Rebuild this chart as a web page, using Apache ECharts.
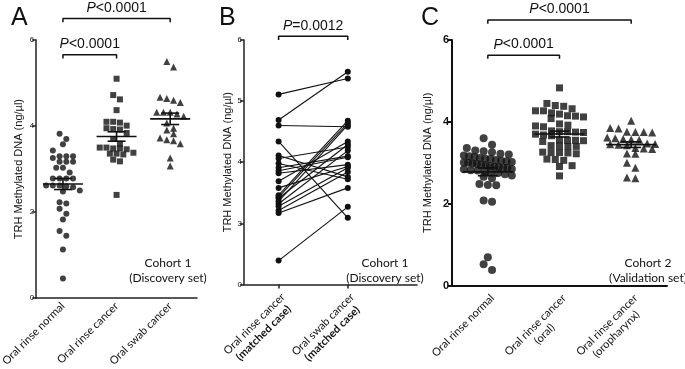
<!DOCTYPE html>
<html>
<head>
<meta charset="utf-8">
<script src="https://cdn.jsdelivr.net/npm/echarts@6/dist/echarts.min.js"></script>
<style>
  html, body { margin: 0; padding: 0; background: #fff; }
  #chart { width: 685px; height: 369px; }
</style>
</head>
<body>
<div id="chart"></div>
<script>
// ---- Panel A: cohort 1 (discovery set)
const aCategories = ['Oral rinse normal', 'Oral rinse cancer', 'Oral swab cancer'];
const aRinseNormal = [3.82, 3.70, 3.58, 3.43, 3.30, 3.30, 3.30, 3.26, 3.17, 3.17, 3.17, 3.03, 3.03, 2.92,
  2.78, 2.78, 2.78, 2.78, 2.62, 2.62, 2.60, 2.58, 2.62, 2.50, 2.48, 2.23, 2.20, 2.08, 1.96, 1.83,
  1.56, 1.45, 1.13, 0.46];
const aRinseCancer = [5.10, 4.72, 4.62, 4.37, 4.10, 4.08, 4.10, 4.01, 3.93, 3.95, 3.92, 3.84, 3.70,
  3.59, 3.50, 3.48, 3.48, 3.50, 3.46, 3.38, 3.36, 3.36, 3.34, 3.22, 3.18, 2.40];
const aSwabCancer = [5.50, 5.37, 4.64, 4.55, 4.60, 4.67, 4.32, 4.32, 4.28, 4.32, 4.23, 4.07, 3.91,
  3.95, 3.82, 3.68, 3.59, 3.66, 3.72, 3.26, 3.07];

// ---- Panel B: matched cases (pairs in the same order)
const bCategories = ['', 'Oral rinse cancer\n(matched case)', '', 'Oral swab cancer\n(matched case)', '', ''];
const bRinse = [5.11, 4.69, 4.60, 4.34, 1.17, 4.11, 4.06, 3.98, 3.91, 3.86, 3.82, 3.69, 3.58, 3.46,
  3.43, 3.41, 3.36, 3.32, 3.28, 3.21, 3.17];
const bSwab = [5.37, 5.48, 4.58, 3.09, 3.27, 3.76, 4.25, 3.72, 4.10, 4.08, 3.96, 4.34, 3.93, 4.68,
  4.64, 4.29, 4.61, 4.19, 3.91, 3.84, 3.58];
const bTickLabels = ['0', '3', '4', '5', '6'];

// ---- Panel C: cohort 2 (validation set)
const cCategories = ['Oral rinse normal', 'Oral rinse cancer\n(oral)', 'Oral rinse cancer\n(oropharynx)'];
const cRinseNormal = [3.60, 3.44, 3.36, 3.30, 3.28, 3.26, 3.22, 3.20, 3.18, 3.16, 3.14, 3.12, 3.10,
  3.09, 3.07, 3.05, 3.04, 3.02, 3.01, 3.00, 2.98, 2.97, 2.95, 2.94, 2.92, 2.91, 2.90, 2.88, 2.87,
  2.85, 2.84, 2.82, 2.81, 2.79, 2.77, 2.75, 2.72, 2.69, 2.66, 2.62, 2.48, 2.46, 2.45, 2.08, 2.05,
  0.69, 0.52, 0.38];
const cOralCancer = [4.83, 4.45, 4.40, 4.38, 4.32, 4.27, 4.27, 4.22, 4.19, 4.15, 4.14, 4.12, 4.08,
  3.95, 3.92, 3.90, 3.88, 3.78, 3.76, 3.76, 3.75, 3.74, 3.70, 3.68, 3.66, 3.56, 3.55, 3.55, 3.54,
  3.52, 3.42, 3.41, 3.40, 3.40, 3.26, 3.25, 3.25, 3.24, 3.22, 3.09, 3.08, 3.06, 2.93, 2.91, 2.68];
const cOropharynx = [4.03, 3.85, 3.84, 3.76, 3.75, 3.75, 3.74, 3.62, 3.60, 3.58, 3.57, 3.56, 3.47,
  3.46, 3.45, 3.44, 3.43, 3.36, 3.35, 3.34, 3.23, 3.22, 3.00, 2.88, 2.64, 2.62];

const chart = echarts.init(document.getElementById('chart'));
const INK = '#111';
const SANS = '"Liberation Sans", Arial, sans-serif';
const HUMAN = 'Lato, "Open Sans", sans-serif';

// spread points of similar value side by side (rows like a Prism dot plot)
function swarm(values, cat, unitPx, catPx, dot, maxHalf) {
  const sorted = values.slice().sort((a, b) => b - a);
  const rows = [];
  sorted.forEach(v => {
    const row = rows[rows.length - 1];
    if (row && (row[0] - v) * unitPx < dot) row.push(v);
    else rows.push([v]);
  });
  const out = [];
  rows.forEach(row => {
    const n = row.length;
    const step = n > 1 ? Math.min(dot * 1.2, 2 * maxHalf / (n - 1)) : 0;
    row.forEach((v, i) => out.push([cat + (i - (n - 1) / 2) * step / catPx, v]));
  });
  return out;
}

function stats(vals) {
  const n = vals.length;
  const mean = vals.reduce((s, v) => s + v, 0) / n;
  const sd = Math.sqrt(vals.reduce((s, v) => s + (v - mean) ** 2, 0) / (n - 1));
  return [mean, sd / Math.sqrt(n)];
}

function meanSem(groups, xIdx, yIdx, half, cap) {
  return {
    type: 'custom', xAxisIndex: xIdx, yAxisIndex: yIdx, z: 5, silent: true,
    data: groups.map((g, i) => [i].concat(stats(g))),
    renderItem: (params, api) => {
      const x = api.value(0), m = api.value(1), s = api.value(2);
      const c = api.coord([x, m]), hi = api.coord([x, m + s]), lo = api.coord([x, m - s]);
      const st = { stroke: INK, lineWidth: 1.6 };
      return {
        type: 'group', children: [
          { type: 'line', shape: { x1: c[0] - half, y1: c[1], x2: c[0] + half, y2: c[1] }, style: st },
          { type: 'line', shape: { x1: c[0], y1: hi[1], x2: c[0], y2: lo[1] }, style: st },
          { type: 'line', shape: { x1: c[0] - cap, y1: hi[1], x2: c[0] + cap, y2: hi[1] }, style: st },
          { type: 'line', shape: { x1: c[0] - cap, y1: lo[1], x2: c[0] + cap, y2: lo[1] }, style: st }
        ]
      };
    }
  };
}

function bracket(x0, x1, y, drop, xIdx, yIdx, text) {
  const xm = (x0 + x1) / 2;
  return {
    type: 'line', xAxisIndex: xIdx, yAxisIndex: yIdx, clip: false, silent: true,
    symbol: 'none', lineStyle: { color: INK, width: 1.5 }, z: 6,
    data: [[x0, y - drop], [x0, y], [xm, y],
      { value: [xm, y + drop * 0.4], symbol: 'circle', symbolSize: 0.1,
        label: { show: true, position: 'top', distance: 2, formatter: text,
          fontFamily: SANS, fontSize: 14, color: INK, rich: { i: { fontStyle: 'italic', fontFamily: SANS, fontSize: 14, color: INK } } } },
      [xm, y], [x1, y], [x1, y - drop]]
  };
}

const axisLineStyle = { color: '#222', width: 1.5 };
const thickLineStyle = { color: '#111', width: 2 };

function twoLine(boldSecond) {
  return v => {
    if (!v) return '';
    const parts = v.split('\n');
    if (parts.length === 1) return '{a|' + parts[0] + '}';
    return '{a|' + parts[0] + '}\n{' + (boldSecond ? 'b' : 'a') + '|' + parts[1] + '}';
  };
}
const richLabels = {
  a: { align: 'center', fontFamily: HUMAN, fontSize: 11, color: INK, lineHeight: 13 },
  b: { align: 'center', fontFamily: HUMAN, fontSize: 11, fontWeight: 'bold', color: INK, lineHeight: 13 }
};

const bDisp = v => (v < 3 ? v / 3 : v - 2);

const pairSeries = bRinse.map((v, i) => ({
  type: 'line', xAxisIndex: 3, yAxisIndex: 1, silent: true,
  symbol: 'circle', symbolSize: 6, showSymbol: true,
  itemStyle: { color: INK }, lineStyle: { color: INK, width: 1.1 },
  data: [[1, bDisp(v)], [3, bDisp(bSwab[i])]]
}));

const yName = 'TRH Methylated DNA (ng/µl)';
const yNameStyle = { fontFamily: SANS, fontSize: 11, color: INK };

const option = {
  animation: false,
  grid: [
    { left: 25, top: 40, width: 172, height: 261 },
    { left: 244, top: 40, width: 173, height: 260 },
    { left: 452, top: 40, width: 215, height: 260 }
  ],
  xAxis: [
    { type: 'category', gridIndex: 0, data: aCategories, boundaryGap: true,
      axisLine: { onZero: false, lineStyle: axisLineStyle }, axisTick: { alignWithLabel: true, length: 4, lineStyle: axisLineStyle },
      axisLabel: { rotate: 45, margin: 6, fontFamily: HUMAN, fontSize: 11, color: INK, interval: 0 } },
    { type: 'value', gridIndex: 0, min: -0.5, max: 2.5, show: false },
    { type: 'category', gridIndex: 1, data: bCategories, boundaryGap: false,
      axisLine: { onZero: false, lineStyle: axisLineStyle },
      axisTick: { length: 4, lineStyle: axisLineStyle, interval: (i, v) => v !== '' },
      axisLabel: { rotate: 45, margin: 6, interval: (i, v) => v !== '', verticalAlign: 'top',
        fontFamily: HUMAN, fontSize: 11, color: INK, formatter: twoLine(true), rich: richLabels } },
    { type: 'value', gridIndex: 1, min: 0, max: 5, show: false },
    { type: 'category', gridIndex: 2, data: cCategories, boundaryGap: true,
      axisLine: { onZero: false, lineStyle: thickLineStyle }, axisTick: { alignWithLabel: true, length: 4, lineStyle: thickLineStyle },
      axisLabel: { rotate: 45, margin: 6, interval: 0, verticalAlign: 'top',
        fontFamily: HUMAN, fontSize: 11, color: INK, formatter: twoLine(false), rich: richLabels } },
    { type: 'value', gridIndex: 2, min: -0.5, max: 2.5, show: false }
  ],
  yAxis: [
    { type: 'value', gridIndex: 0, min: 0, max: 6, interval: 2, splitLine: { show: false },
      name: yName, nameLocation: 'middle', nameGap: 12, nameTextStyle: yNameStyle,
      axisLine: { show: true, onZero: false, lineStyle: axisLineStyle }, axisTick: { show: true, length: 4, lineStyle: axisLineStyle },
      axisLabel: { fontFamily: SANS, fontSize: 8, color: INK, margin: 2 } },
    { type: 'value', gridIndex: 1, min: 0, max: 4, interval: 1, splitLine: { show: false },
      name: yName, nameLocation: 'middle', nameGap: 9, nameTextStyle: yNameStyle,
      axisLine: { show: true, onZero: false, lineStyle: axisLineStyle }, axisTick: { show: true, length: 4, lineStyle: axisLineStyle },
      axisLabel: { fontFamily: SANS, fontSize: 8, color: INK, margin: 2, formatter: v => bTickLabels[v] } },
    { type: 'value', gridIndex: 2, min: 0, max: 6, interval: 2, splitLine: { show: false },
      name: yName, nameLocation: 'middle', nameGap: 19, nameTextStyle: yNameStyle,
      axisLine: { show: true, onZero: false, lineStyle: thickLineStyle }, axisTick: { show: true, length: 4, lineStyle: thickLineStyle },
      axisLabel: { fontFamily: SANS, fontSize: 11, fontWeight: 'bold', color: INK, margin: 3 } }
  ],
  graphic: [
    { type: 'text', left: 11, top: 6, style: { text: 'A', font: '25px "Liberation Sans", Arial', fill: INK } },
    { type: 'text', left: 219, top: 6, style: { text: 'B', font: '25px "Liberation Sans", Arial', fill: INK } },
    { type: 'text', left: 421, top: 6, style: { text: 'C', font: '25px "Liberation Sans", Arial', fill: INK } },
    { type: 'text', x: 168, y: 256, style: { text: 'Cohort 1\n(Discovery set)', align: 'center', lineHeight: 15, font: '12px Lato', fill: INK } },
    { type: 'text', x: 385, y: 256, style: { text: 'Cohort 1\n(Discovery set)', align: 'center', lineHeight: 15, font: '12px Lato', fill: INK } },
    { type: 'text', x: 648, y: 256, style: { text: 'Cohort 2\n(Validation set)', align: 'center', lineHeight: 15, font: '12px Lato', fill: INK } }
  ],
  series: [
    // Panel A
    { type: 'scatter', xAxisIndex: 1, yAxisIndex: 0, symbol: 'circle', symbolSize: 6, itemStyle: { color: INK },
      data: swarm(aRinseNormal, 0, 43.5, 57.3, 6, 18) },
    { type: 'scatter', xAxisIndex: 1, yAxisIndex: 0, symbol: 'rect', symbolSize: 6, itemStyle: { color: INK },
      data: swarm(aRinseCancer, 1, 43.5, 57.3, 6, 18) },
    { type: 'scatter', xAxisIndex: 1, yAxisIndex: 0, symbol: 'triangle', symbolSize: 7, itemStyle: { color: INK },
      data: swarm(aSwabCancer, 2, 43.5, 57.3, 6, 18) },
    meanSem([aRinseNormal, aRinseCancer, aSwabCancer], 1, 0, 20, 9),
    bracket(0, 2, 6.5, 0.09, 1, 0, '{i|P}<0.0001'),
    bracket(0, 1, 5.66, 0.09, 1, 0, '{i|P}<0.0001'),
    // Panel B
    ...pairSeries,
    bracket(1, 3, 4.06, 0.06, 3, 1, '{i|P}=0.0012'),
    // Panel C
    { type: 'scatter', xAxisIndex: 5, yAxisIndex: 2, symbol: 'circle', symbolSize: 8, itemStyle: { color: INK },
      data: swarm(cRinseNormal, 0, 43.3, 71.7, 7, 24) },
    { type: 'scatter', xAxisIndex: 5, yAxisIndex: 2, symbol: 'rect', symbolSize: 7, itemStyle: { color: INK },
      data: swarm(cOralCancer, 1, 43.3, 71.7, 7, 24) },
    { type: 'scatter', xAxisIndex: 5, yAxisIndex: 2, symbol: 'triangle', symbolSize: 8, itemStyle: { color: INK },
      data: swarm(cOropharynx, 2, 43.3, 71.7, 7, 24) },
    meanSem([cRinseNormal, cOralCancer, cOropharynx], 5, 2, 25, 10),
    bracket(0, 2, 6.49, 0.09, 5, 2, '{i|P}<0.0001'),
    bracket(0, 1, 5.63, 0.09, 5, 2, '{i|P}<0.0001')
  ]
};

chart.setOption(option);
</script>
</body>
</html>
